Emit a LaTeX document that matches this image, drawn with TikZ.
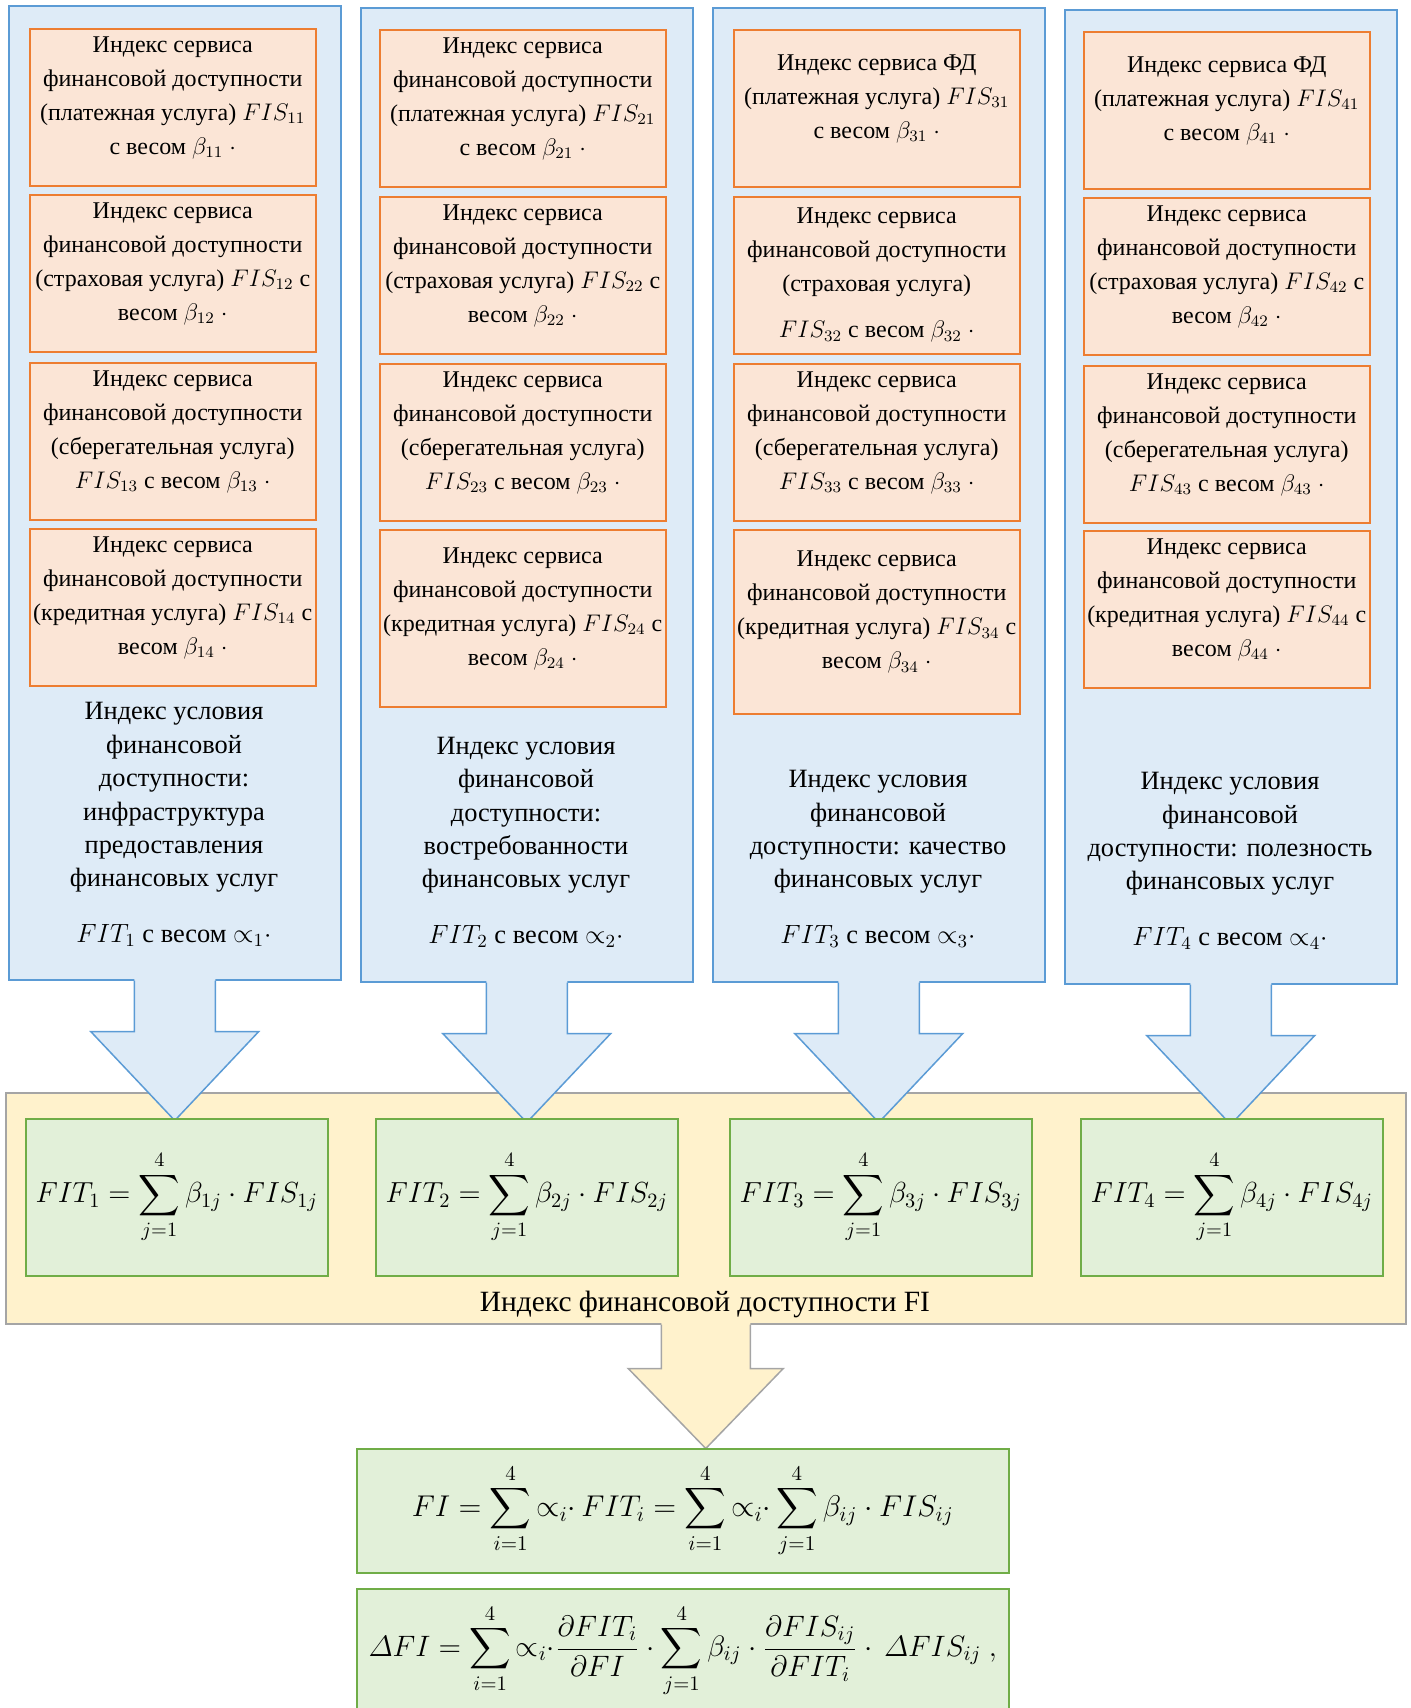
\RequirePackage{fix-cm}
\documentclass[tikz,border=0pt]{standalone}
\usepackage{exscale}
\usepackage{fontspec}
\setmainfont{Liberation Serif}
\usetikzlibrary{calc,positioning}
\DeclareMathSymbol{\itDelta}{\mathord}{letters}{"01}
\definecolor{bluefill}{HTML}{DEEBF7}
\definecolor{blueline}{HTML}{5B9BD5}
\definecolor{orangefill}{HTML}{FBE5D6}
\definecolor{orangeline}{HTML}{ED7D31}
\definecolor{greenfill}{HTML}{E2F0D9}
\definecolor{greenline}{HTML}{70AD47}
\definecolor{yellowfill}{HTML}{FFF2CC}
\definecolor{grayline}{HTML}{A5A5A5}

\begin{document}
\begin{tikzpicture}[x=0.5pt,y=-0.5pt,line width=0.75pt,
        col/.style={draw=blueline,fill=bluefill,anchor=north west,inner sep=0pt,
            minimum width=166pt,minimum height=487pt},
        svc/.style={draw=orangeline,fill=orangefill,anchor=north west,inner xsep=0pt,
            minimum width=143pt,minimum height=78.5pt,align=center,
            font=\fontsize{12}{17}\selectfont},
        cond/.style={anchor=south,inner sep=0pt,align=center,
            font=\fontsize{13.2}{16.7}\selectfont},
        fit/.style={draw=greenline,fill=greenfill,anchor=north west,inner sep=0pt,
            minimum width=151pt,minimum height=78.5pt,
            font=\fontsize{14.5}{17}\selectfont},
        total/.style={draw=greenline,fill=greenfill,anchor=north west,inner sep=0pt,
            minimum width=326pt,minimum height=62pt,font=\fontsize{15}{18}\selectfont}]
    \useasboundingbox (0,0) rectangle (1411,1708);
    \clip (0,0) rectangle (1411,1708);

    % index FI
    \node[draw=grayline,fill=yellowfill,anchor=north west,inner sep=0pt,
        minimum width=700pt,minimum height=115.5pt] at (5,1092)(fi){};
    \node[font=\fontsize{14.7}{18}\selectfont] at (705,1304)(filab){Индекс финансовой доступности FI};

    % columns
    \node[col] at (8,5)(c1){};
    \node[col] at (360,7)(c2){};
    \node[col] at (712,7)(c3){};
    \node[col] at (1064,9)(c4){};

    \fill[bluefill] ($(c1.south)+(-40.5,-1.5)$) -- ++(0,52.5) -- ++(-43.5,0) -- ++(84,89) -- ++(84,-89) -- ++(-43.5,0) -- ++(0,-52.5) -- cycle;
    \draw[blueline] ($(c1.south)+(-40.5,0)$) -- ++(0,51) -- ++(-43.5,0) -- ++(84,89) -- ++(84,-89) -- ++(-43.5,0) -- ++(0,-51);
    \fill[bluefill] ($(c2.south)+(-40.5,-1.5)$) -- ++(0,52.5) -- ++(-43.5,0) -- ++(84,89) -- ++(84,-89) -- ++(-43.5,0) -- ++(0,-52.5) -- cycle;
    \draw[blueline] ($(c2.south)+(-40.5,0)$) -- ++(0,51) -- ++(-43.5,0) -- ++(84,89) -- ++(84,-89) -- ++(-43.5,0) -- ++(0,-51);
    \fill[bluefill] ($(c3.south)+(-40.5,-1.5)$) -- ++(0,52.5) -- ++(-43.5,0) -- ++(84,89) -- ++(84,-89) -- ++(-43.5,0) -- ++(0,-52.5) -- cycle;
    \draw[blueline] ($(c3.south)+(-40.5,0)$) -- ++(0,51) -- ++(-43.5,0) -- ++(84,89) -- ++(84,-89) -- ++(-43.5,0) -- ++(0,-51);
    \fill[bluefill] ($(c4.south)+(-40.5,-1.5)$) -- ++(0,52.5) -- ++(-43.5,0) -- ++(84,89) -- ++(84,-89) -- ++(-43.5,0) -- ++(0,-52.5) -- cycle;
    \draw[blueline] ($(c4.south)+(-40.5,0)$) -- ++(0,51) -- ++(-43.5,0) -- ++(84,89) -- ++(84,-89) -- ++(-43.5,0) -- ++(0,-51);

    % services, column 1
    \node[svc] at (29,28)(s11){Индекс сервиса\\финансовой доступности\\(платежная услуга) $FIS_{11}$\\с весом $\beta_{11}$ $\cdot$\\[-5pt]\mbox{}};
    \node[svc] at (29,194)(s12){Индекс сервиса\\финансовой доступности\\(страховая услуга) $FIS_{12}$ с\\весом $\beta_{12}$ $\cdot$\\[-5pt]\mbox{}};
    \node[svc] at (29,362)(s13){Индекс сервиса\\финансовой доступности\\(сберегательная услуга)\\$FIS_{13}$ с весом $\beta_{13}$ $\cdot$\\[-5pt]\mbox{}};
    \node[svc] at (29,528)(s14){Индекс сервиса\\финансовой доступности\\(кредитная услуга) $FIS_{14}$ с\\весом $\beta_{14}$ $\cdot$\\[-5pt]\mbox{}};
    % column 2
    \node[svc] at (379,29)(s21){Индекс сервиса\\финансовой доступности\\(платежная услуга) $FIS_{21}$\\с весом $\beta_{21}$ $\cdot$\\[-5pt]\mbox{}};
    \node[svc] at (379,196)(s22){Индекс сервиса\\финансовой доступности\\(страховая услуга) $FIS_{22}$ с\\весом $\beta_{22}$ $\cdot$\\[-5pt]\mbox{}};
    \node[svc] at (379,363)(s23){Индекс сервиса\\финансовой доступности\\(сберегательная услуга)\\$FIS_{23}$ с весом $\beta_{23}$ $\cdot$\\[-5pt]\mbox{}};
    \node[svc,minimum height=88.5pt] at (379,529)(s24){Индекс сервиса\\финансовой доступности\\(кредитная услуга) $FIS_{24}$ с\\весом $\beta_{24}$ $\cdot$\\[-5pt]\mbox{}};
    % column 3
    \node[svc] at (733,29)(s31){Индекс сервиса ФД\\(платежная услуга) $FIS_{31}$\\с весом $\beta_{31}$ $\cdot$\\[-5pt]\mbox{}};
    \node[svc] at (733,196)(s32){Индекс сервиса\\финансовой доступности\\(страховая услуга)\\[6pt]$FIS_{32}$ с весом $\beta_{32}$ $\cdot$};
    \node[svc] at (733,363)(s33){Индекс сервиса\\финансовой доступности\\(сберегательная услуга)\\$FIS_{33}$ с весом $\beta_{33}$ $\cdot$\\[-5pt]\mbox{}};
    \node[svc,minimum height=92pt] at (733,529)(s34){Индекс сервиса\\финансовой доступности\\(кредитная услуга) $FIS_{34}$ с\\весом $\beta_{34}$ $\cdot$\\[-5pt]\mbox{}};
    % column 4
    \node[svc] at (1083,31)(s41){Индекс сервиса ФД\\(платежная услуга) $FIS_{41}$\\с весом $\beta_{41}$ $\cdot$\\[-5pt]\mbox{}};
    \node[svc] at (1083,197)(s42){Индекс сервиса\\финансовой доступности\\(страховая услуга) $FIS_{42}$ с\\весом $\beta_{42}$ $\cdot$\\[-5pt]\mbox{}};
    \node[svc] at (1083,365)(s43){Индекс сервиса\\финансовой доступности\\(сберегательная услуга)\\$FIS_{43}$ с весом $\beta_{43}$ $\cdot$\\[-5pt]\mbox{}};
    \node[svc] at (1083,530)(s44){Индекс сервиса\\финансовой доступности\\(кредитная услуга) $FIS_{44}$ с\\весом $\beta_{44}$ $\cdot$\\[-5pt]\mbox{}};

    % conditions
    \node[cond] at (174,947)(t1){Индекс условия\\финансовой\\доступности:\\инфраструктура\\предоставления\\финансовых услуг\\[11pt]$FIT_1$ с весом $\mathord{\propto}_1{\cdot}$};
    \node[cond] at (526,948)(t2){Индекс условия\\финансовой\\доступности:\\востребованности\\финансовых услуг\\[11pt]$FIT_2$ с весом $\mathord{\propto}_2{\cdot}$};
    \node[cond] at (878,948)(t3){Индекс условия\\финансовой\\доступности: качество\\финансовых услуг\\[11pt]$FIT_3$ с весом $\mathord{\propto}_3{\cdot}$};
    \node[cond] at (1230,950)(t4){Индекс условия\\финансовой\\доступности: полезность\\финансовых услуг\\[11pt]$FIT_4$ с весом $\mathord{\propto}_4{\cdot}$};

    % FIT formulas
    \node[fit] at (25,1118)(g1){$\displaystyle FIT_1=\sum_{j=1}^{4}\beta_{1j}\cdot FIS_{1j}$};
    \node[fit] at (375,1118)(g2){$\displaystyle FIT_2=\sum_{j=1}^{4}\beta_{2j}\cdot FIS_{2j}$};
    \node[fit] at (729,1118)(g3){$\displaystyle FIT_3=\sum_{j=1}^{4}\beta_{3j}\cdot FIS_{3j}$};
    \node[fit] at (1080,1118)(g4){$\displaystyle FIT_4=\sum_{j=1}^{4}\beta_{4j}\cdot FIS_{4j}$};

    % arrow to FI
    \fill[yellowfill] ($(fi.south)+(-44.5,-1.5)$) -- ++(0,45.5) -- ++(-33,0) -- ++(77.5,80) -- ++(77.5,-80) -- ++(-33,0) -- ++(0,-45.5) -- cycle;
    \draw[grayline] ($(fi.south)+(-44.5,0)$) -- ++(0,44) -- ++(-33,0) -- ++(77.5,80) -- ++(77.5,-80) -- ++(-33,0) -- ++(0,-44);

    \node[total] at (356,1448)(tot){$\displaystyle FI=\sum_{i=1}^{4}{\propto}_i{\cdot}\,FIT_i=\sum_{i=1}^{4}{\propto}_i{\cdot}\sum_{j=1}^{4}\beta_{ij}\cdot FIS_{ij}$};
    \node[total,font=\fontsize{14.75}{18}\selectfont] at (356,1588)(dtot){$\displaystyle \itDelta FI=\sum_{i=1}^{4}{\propto}_i{\cdot}\frac{\partial FIT_i}{\partial FI}\cdot\sum_{j=1}^{4}\beta_{ij}\cdot\frac{\partial FIS_{ij}}{\partial FIT_i}\cdot\,\itDelta FIS_{ij}\ ,$};
\end{tikzpicture}
\end{document}
